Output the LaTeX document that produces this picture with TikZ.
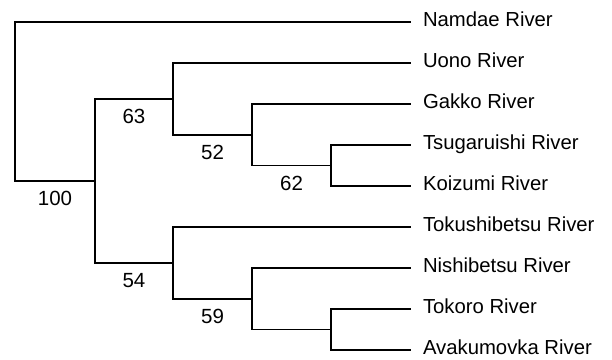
\documentclass[tikz,border=0pt]{standalone}
\usepackage{fontspec}
\setmainfont{Liberation Sans}
\tikzset{
  branch/.style={line width=1.8pt, line cap=rect, line join=miter, black},
  leaf/.style={anchor=west, inner sep=0pt, outer sep=0pt, text height=9.3pt, text depth=0pt, font=\fontsize{20.3}{24}\selectfont},
  support/.style={inner sep=0pt, font=\fontsize{20.5}{24}\selectfont},
}
\begin{document}
\begin{tikzpicture}[x=1pt,y=-1pt]
\useasboundingbox (0,0) rectangle (612,359);
% leaves
\node[leaf] (namdae) at (423,22) {Namdae River};
\node[leaf] (uono) at (423,63) {Uono River};
\node[leaf] (gakko) at (423,104) {Gakko River};
\node[leaf] (tsu) at (423,145) {Tsugaruishi River};
\node[leaf] (koi) at (423,186) {Koizumi River};
\node[leaf] (toku) at (423,227) {Tokushibetsu River};
\node[leaf] (nishi) at (423,268) {Nishibetsu River};
\node[leaf] (tokoro) at (423,309) {Tokoro River};
\node[leaf] (avak) at (423,350) {Avakumovka River};
% internal nodes
\coordinate (A) at (331,165.5);
\coordinate (B) at (252,134.75);
\coordinate (C) at (173,98.9);
\coordinate (D) at (331,329.5);
\coordinate (E) at (252,298.75);
\coordinate (F) at (173,262.9);
\coordinate (G) at (95,180.9);
\coordinate (R) at (15,101.4);
% connectors
\draw[branch] (R) |- ([xshift=-13pt]namdae.west);
\draw[branch] (R) |- (G) node[support, pos=0.75, yshift=-18pt] {100};
\draw[branch] (G) |- (C) node[support, pos=0.75, yshift=-18pt] {63};
\draw[branch] (G) |- (F) node[support, pos=0.75, yshift=-18pt] {54};
\draw[branch] (C) |- ([xshift=-13pt]uono.west);
\draw[branch] (C) |- (B) node[support, pos=0.75, yshift=-18pt] {52};
\draw[branch] (B) |- ([xshift=-13pt]gakko.west);
\draw[branch] (B) |- (A) node[support, pos=0.75, yshift=-18pt] {62};
\draw[branch] (A) |- ([xshift=-13pt]tsu.west);
\draw[branch] (A) |- ([xshift=-13pt]koi.west);
\draw[branch] (F) |- ([xshift=-13pt]toku.west);
\draw[branch] (F) |- (E) node[support, pos=0.75, yshift=-18pt] {59};
\draw[branch] (E) |- ([xshift=-13pt]nishi.west);
\draw[branch] (E) |- (D);
\draw[branch] (D) |- ([xshift=-13pt]tokoro.west);
\draw[branch] (D) |- ([xshift=-13pt]avak.west);
\end{tikzpicture}
\end{document}
